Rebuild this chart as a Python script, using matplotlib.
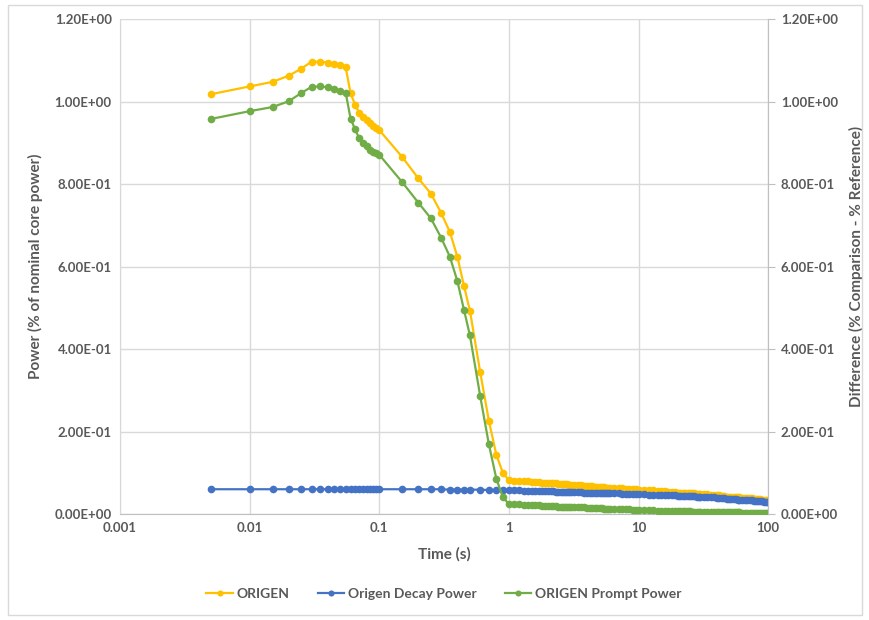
import matplotlib.pyplot as plt
from matplotlib.patches import Rectangle
from matplotlib.ticker import FixedLocator, FuncFormatter, NullLocator

plt.rcParams["font.family"] = ["Lato", "DejaVu Sans"]

# time points (s)
time_s = [
    0.005, 0.01, 0.015, 0.02, 0.025, 0.03, 0.035, 0.04, 0.045, 0.05, 0.055,
    0.06, 0.065, 0.07, 0.075, 0.08, 0.085, 0.09, 0.095, 0.1,
    0.15, 0.2, 0.25, 0.3, 0.35, 0.4, 0.45, 0.5, 0.6, 0.7, 0.8, 0.9,
    1.0, 1.1, 1.2, 1.3, 1.4, 1.5, 1.6, 1.7, 1.8, 1.9, 2.0,
    2.1, 2.2, 2.3, 2.4, 2.5, 2.6, 2.7, 2.8, 2.9, 3.0,
    3.2, 3.4, 3.6, 3.8, 4.0, 4.2, 4.4, 4.6, 4.8, 5.0, 5.2, 5.4, 5.6, 5.8, 6.0,
    6.5, 7.0, 7.5, 8.0, 8.5, 9.0, 9.5, 10,
    11, 12, 13, 14, 15, 16, 17, 18, 19, 20, 21, 22, 23, 24, 25, 26, 27, 28, 29, 30,
    32, 34, 36, 38, 40, 42, 44, 46, 48, 50, 52, 54, 56, 58, 60,
    63, 66, 69, 72, 75, 78, 81, 84, 87, 90, 93, 96, 99, 100,
]

origen = [
    1.018, 1.037, 1.048, 1.063, 1.080, 1.097, 1.097, 1.095, 1.091, 1.088, 1.084,
    1.020, 0.993, 0.973, 0.962, 0.955, 0.948, 0.942, 0.937, 0.931,
    0.866, 0.814, 0.777, 0.730, 0.684, 0.624, 0.553, 0.493, 0.344, 0.226, 0.143, 0.099,
    0.082, 0.081, 0.081, 0.079, 0.079, 0.078, 0.078, 0.078, 0.076, 0.076, 0.075,
    0.075, 0.075, 0.074, 0.073, 0.073, 0.073, 0.073, 0.073, 0.071, 0.071,
    0.071, 0.070, 0.070, 0.069, 0.068, 0.068, 0.068, 0.066, 0.066, 0.066, 0.066, 0.065, 0.064, 0.064, 0.064,
    0.063, 0.063, 0.062, 0.061, 0.061, 0.060, 0.060, 0.059,
    0.058, 0.057, 0.057, 0.055, 0.055, 0.055, 0.054, 0.054, 0.053, 0.052,
    0.052, 0.052, 0.052, 0.051, 0.051, 0.050, 0.050, 0.049, 0.049, 0.049,
    0.048, 0.048, 0.046, 0.046, 0.045, 0.045, 0.044, 0.044, 0.042, 0.042, 0.041, 0.041, 0.041, 0.040, 0.040,
    0.039, 0.039, 0.038, 0.038, 0.038, 0.037, 0.037, 0.036, 0.036, 0.035, 0.035, 0.035, 0.034, 0.034,
]

decay = [
    0.060, 0.060, 0.060, 0.060, 0.060, 0.060, 0.060, 0.060, 0.060, 0.060, 0.060,
    0.060, 0.060, 0.060, 0.060, 0.060, 0.060, 0.060, 0.060, 0.060,
    0.060, 0.060, 0.060, 0.060, 0.059, 0.059, 0.059, 0.059, 0.059, 0.058, 0.058, 0.058,
    0.057, 0.057, 0.057, 0.056, 0.056, 0.056, 0.056, 0.056, 0.055, 0.055, 0.055,
    0.055, 0.055, 0.054, 0.054, 0.054, 0.054, 0.054, 0.054, 0.053, 0.053,
    0.053, 0.053, 0.053, 0.052, 0.052, 0.052, 0.052, 0.051, 0.051, 0.051, 0.051, 0.051, 0.050, 0.050, 0.050,
    0.050, 0.050, 0.049, 0.049, 0.049, 0.049, 0.048, 0.048,
    0.048, 0.047, 0.047, 0.046, 0.046, 0.046, 0.045, 0.045, 0.045, 0.044,
    0.044, 0.044, 0.044, 0.043, 0.043, 0.043, 0.043, 0.042, 0.042, 0.042,
    0.041, 0.041, 0.040, 0.040, 0.039, 0.039, 0.038, 0.038, 0.037, 0.037, 0.036, 0.036, 0.036, 0.035, 0.035,
    0.034, 0.034, 0.033, 0.033, 0.033, 0.032, 0.032, 0.031, 0.031, 0.031, 0.030, 0.030, 0.030, 0.030,
]

prompt = [
    0.958, 0.977, 0.987, 1.001, 1.021, 1.036, 1.037, 1.035, 1.030, 1.026, 1.022,
    0.959, 0.933, 0.911, 0.900, 0.892, 0.884, 0.879, 0.875, 0.871,
    0.805, 0.755, 0.717, 0.670, 0.624, 0.565, 0.495, 0.433, 0.286, 0.169, 0.085, 0.040,
    0.024, 0.023, 0.023, 0.022, 0.022, 0.021, 0.021, 0.021, 0.020, 0.020, 0.019,
    0.019, 0.019, 0.019, 0.018, 0.018, 0.018, 0.018, 0.018, 0.017, 0.017,
    0.017, 0.016, 0.016, 0.016, 0.015, 0.015, 0.015, 0.014, 0.014, 0.014, 0.014, 0.013, 0.013, 0.013, 0.013,
    0.012, 0.012, 0.012, 0.011, 0.011, 0.010, 0.010, 0.009,
    0.009, 0.009, 0.009, 0.008, 0.008, 0.008, 0.008, 0.008, 0.007, 0.007,
    0.007, 0.007, 0.007, 0.007, 0.007, 0.006, 0.006, 0.006, 0.006, 0.006,
    0.006, 0.006, 0.005, 0.005, 0.005, 0.005, 0.005, 0.005, 0.004, 0.004, 0.004, 0.004, 0.004, 0.004, 0.004,
    0.003, 0.003, 0.003, 0.003, 0.003, 0.003, 0.003, 0.002, 0.002, 0.002, 0.002, 0.002, 0.002, 0.002,
]

x_ticks = [0.001, 0.01, 0.1, 1, 10, 100]
x_tick_labels = ["0.001", "0.01", "0.1", "1", "10", "100"]
y_ticks = [0.0, 0.2, 0.4, 0.6, 0.8, 1.0, 1.2]

GRID = "#D9D9D9"
TEXT = "#595959"

fig = plt.figure(figsize=(8.7, 6.2), dpi=100)
ax = fig.add_axes([0.138, 0.171, 0.745, 0.798])

series = [
    ("ORIGEN", origen, "#FFC000"),
    ("Origen Decay Power", decay, "#4472C4"),
    ("ORIGEN Prompt Power", prompt, "#70AD47"),
]
for name, values, color in series:
    ax.plot(time_s, values, color=color, lw=1.6, marker="o", ms=5.5,
            markeredgewidth=0, label=name, zorder=3)

ax.set_xscale("log")
ax.set_xlim(0.001, 100)
ax.set_ylim(0, 1.2)
ax.xaxis.set_major_locator(FixedLocator(x_ticks))
ax.xaxis.set_minor_locator(NullLocator())
ax.set_xticklabels(x_tick_labels)
ax.set_yticks(y_ticks)
sci = FuncFormatter(lambda v, _: f"{v:.2E}")
ax.yaxis.set_major_formatter(sci)

ax.grid(True, color=GRID, lw=1.0, zorder=0)
for side in ["top", "right"]:
    ax.spines[side].set_visible(False)
ax.spines["left"].set_color(GRID)
ax.spines["bottom"].set_color("#BFBFBF")
ax.tick_params(axis="both", length=0, colors=TEXT, labelsize=9.5, pad=6)
for lbl in ax.get_xticklabels() + ax.get_yticklabels():
    lbl.set_fontweight("bold")

ax.set_xlabel("Time (s)", fontsize=11, fontweight="bold", color=TEXT, labelpad=9)
ax.set_ylabel("Power (% of nominal core power)", fontsize=11, fontweight="bold",
              color=TEXT, labelpad=8)

ax2 = ax.twinx()
ax2.set_ylim(0, 1.2)
ax2.set_yticks(y_ticks)
ax2.yaxis.set_major_formatter(sci)
for side in ["top", "left", "bottom"]:
    ax2.spines[side].set_visible(False)
ax2.spines["right"].set_color("#BFBFBF")
ax2.tick_params(axis="y", length=5, color="#BFBFBF", colors=TEXT, labelsize=9.5, pad=4)
for lbl in ax2.get_yticklabels():
    lbl.set_fontweight("bold")
    lbl.set_color(TEXT)
ax2.set_ylabel("Difference (% Comparison - % Reference)", fontsize=11,
               fontweight="bold", color=TEXT, labelpad=8)

leg = ax.legend(loc="upper center", bbox_to_anchor=(0.5, -0.125), ncol=3,
                frameon=False, handlelength=1.9, handletextpad=0.3,
                columnspacing=2.0, markerscale=0.8,
                prop={"weight": "bold", "size": 10})
for t in leg.get_texts():
    t.set_color(TEXT)

fig.patches.append(Rectangle((0.009, 0.008), 0.982, 0.984, transform=fig.transFigure,
                             fill=False, edgecolor=GRID, lw=1.0))

fig.savefig("out.png", dpi=100)
